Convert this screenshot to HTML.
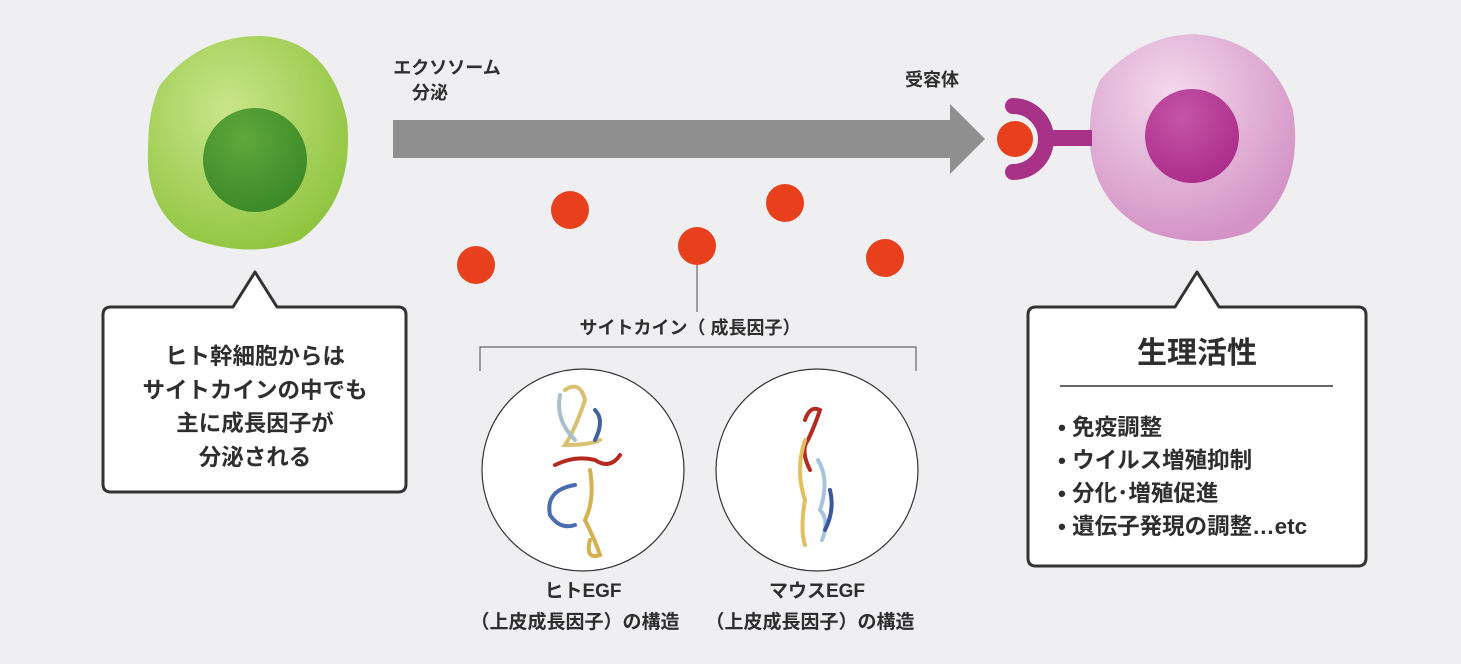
<!DOCTYPE html>
<html><head><meta charset="utf-8"><style>
html,body{margin:0;padding:0;background:#efeff1;}
svg{display:block}
text{font-family:"Liberation Sans","Noto Sans CJK JP",sans-serif;fill:#2e2e2e;font-weight:bold}
</style></head><body>
<svg width="1461" height="664" viewBox="0 0 1461 664" xmlns="http://www.w3.org/2000/svg">
<defs>
<radialGradient id="g1" cx="0.4" cy="0.35" r="0.7"><stop offset="0" stop-color="#c9e58a"/><stop offset="1" stop-color="#8fc43e"/></radialGradient>
<radialGradient id="g1n" cx="0.4" cy="0.3" r="0.7"><stop offset="0" stop-color="#5fa83a"/><stop offset="1" stop-color="#3d8a2a"/></radialGradient>
<radialGradient id="g2" cx="0.4" cy="0.3" r="0.7"><stop offset="0" stop-color="#f3d9ec"/><stop offset="1" stop-color="#d493c6"/></radialGradient>
<radialGradient id="g2n" cx="0.4" cy="0.3" r="0.7"><stop offset="0" stop-color="#c456a8"/><stop offset="1" stop-color="#ad2e8a"/></radialGradient>
</defs>
<rect width="1461" height="664" fill="#efeff1"/>
<path d="M160,85 Q200,35 262,36 Q330,40 347,120 Q355,200 300,240 Q250,260 190,238 Q145,210 148,150 Q148,110 160,85Z" fill="url(#g1)"/>
<circle cx="255" cy="160" r="52" fill="url(#g1n)"/>
<path d="M1100,80 Q1140,35 1195,34 Q1270,40 1293,110 Q1305,190 1250,232 Q1200,250 1150,232 Q1095,205 1090,145 Q1088,105 1100,80Z" fill="url(#g2)"/>
<circle cx="1192" cy="136" r="47" fill="url(#g2n)"/>
<rect x="1048" y="130" width="44" height="16" fill="#a83288"/>
<path d="M1013,106 A33,33 0 0 1 1013,172" fill="none" stroke="#a83288" stroke-width="16" stroke-linecap="round"/>
<circle cx="1015" cy="139" r="21" fill="#efeff1"/>
<circle cx="1015" cy="139" r="18" fill="#e8401c"/>
<path d="M393,120 H950 V104 L985,139 L950,174 V158 H393Z" fill="#8f8f8f"/>
<text x="447" y="74" font-size="18" text-anchor="middle">エクソソーム</text>
<text x="430" y="99" font-size="18" text-anchor="middle">分泌</text>
<text x="932" y="86" font-size="18" text-anchor="middle">受容体</text>
<g fill="#e8401c">
<circle cx="476" cy="265" r="19"/><circle cx="570" cy="210" r="19"/><circle cx="697" cy="246" r="19"/><circle cx="785" cy="203" r="19"/><circle cx="885" cy="258" r="19"/>
</g>
<line x1="697" y1="265" x2="697" y2="312" stroke="#666" stroke-width="1.2"/>
<text x="690" y="334" font-size="18" text-anchor="middle">サイトカイン（ 成長因子）</text>
<path d="M480,371 V347 H916 V371" fill="none" stroke="#666" stroke-width="1.2"/>
<circle cx="583" cy="470" r="101" fill="#fff" stroke="#333" stroke-width="1.2"/>
<circle cx="817" cy="470" r="101" fill="#fff" stroke="#333" stroke-width="1.2"/>
<g fill="none" stroke-width="4" stroke-linecap="round">
<path d="M565,390 Q580,380 585,400 Q575,430 565,445 Q590,445 600,440" stroke="#d8c070"/>
<path d="M560,395 Q555,420 575,440" stroke="#a9c0cc"/>
<path d="M595,410 Q605,420 595,440" stroke="#4060a0"/>
<path d="M555,465 Q575,455 595,460 Q610,470 620,455" stroke="#b52a20"/>
<path d="M575,485 Q545,490 550,515 Q560,530 575,525" stroke="#4a6db0"/>
<path d="M590,470 Q595,500 585,520 Q595,540 600,555 Q585,560 590,540" stroke="#d6b050"/>
<path d="M805,420 Q810,405 820,410 Q815,425 808,440 Q800,450 810,470" stroke="#b52a20"/>
<path d="M805,440 Q795,470 805,500 Q800,530 805,545" stroke="#e0c060"/>
<path d="M818,460 Q830,480 820,510 Q830,520 822,540" stroke="#a6c4dc"/>
<path d="M830,490 Q835,510 825,530" stroke="#3a58a0"/>
</g>
<text x="583" y="597" font-size="19" text-anchor="middle">ヒトEGF</text>
<text x="575" y="628" font-size="19" text-anchor="middle">（上皮成長因子）の構造</text>
<text x="817" y="597" font-size="19" text-anchor="middle">マウスEGF</text>
<text x="810" y="628" font-size="19" text-anchor="middle">（上皮成長因子）の構造</text>
<path d="M111,307 H233 L255,272 L277,307 H398 Q406,307 406,315 V484 Q406,492 398,492 H111 Q103,492 103,484 V315 Q103,307 111,307Z" fill="#fff" stroke="#333" stroke-width="3" stroke-linejoin="round"/>
<g font-size="22.5" text-anchor="middle">
<text x="255" y="364">ヒト幹細胞からは</text>
<text x="255" y="398">サイトカインの中でも</text>
<text x="255" y="431">主に成長因子が</text>
<text x="255" y="465">分泌される</text>
</g>
<path d="M1036,307 H1175 L1197,272 L1219,307 H1358 Q1366,307 1366,315 V558 Q1366,566 1358,566 H1036 Q1028,566 1028,558 V315 Q1028,307 1036,307Z" fill="#fff" stroke="#333" stroke-width="3" stroke-linejoin="round"/>
<text x="1197" y="363" font-size="30" text-anchor="middle">生理活性</text>
<line x1="1060" y1="386" x2="1333" y2="386" stroke="#333" stroke-width="1.5"/>
<g font-size="22.5">
<text x="1058" y="435">• 免疫調整</text>
<text x="1058" y="468">• ウイルス増殖抑制</text>
<text x="1058" y="501">• 分化･増殖促進</text>
<text x="1058" y="534">• 遺伝子発現の調整…etc</text>
</g>
</svg>
</body></html>
